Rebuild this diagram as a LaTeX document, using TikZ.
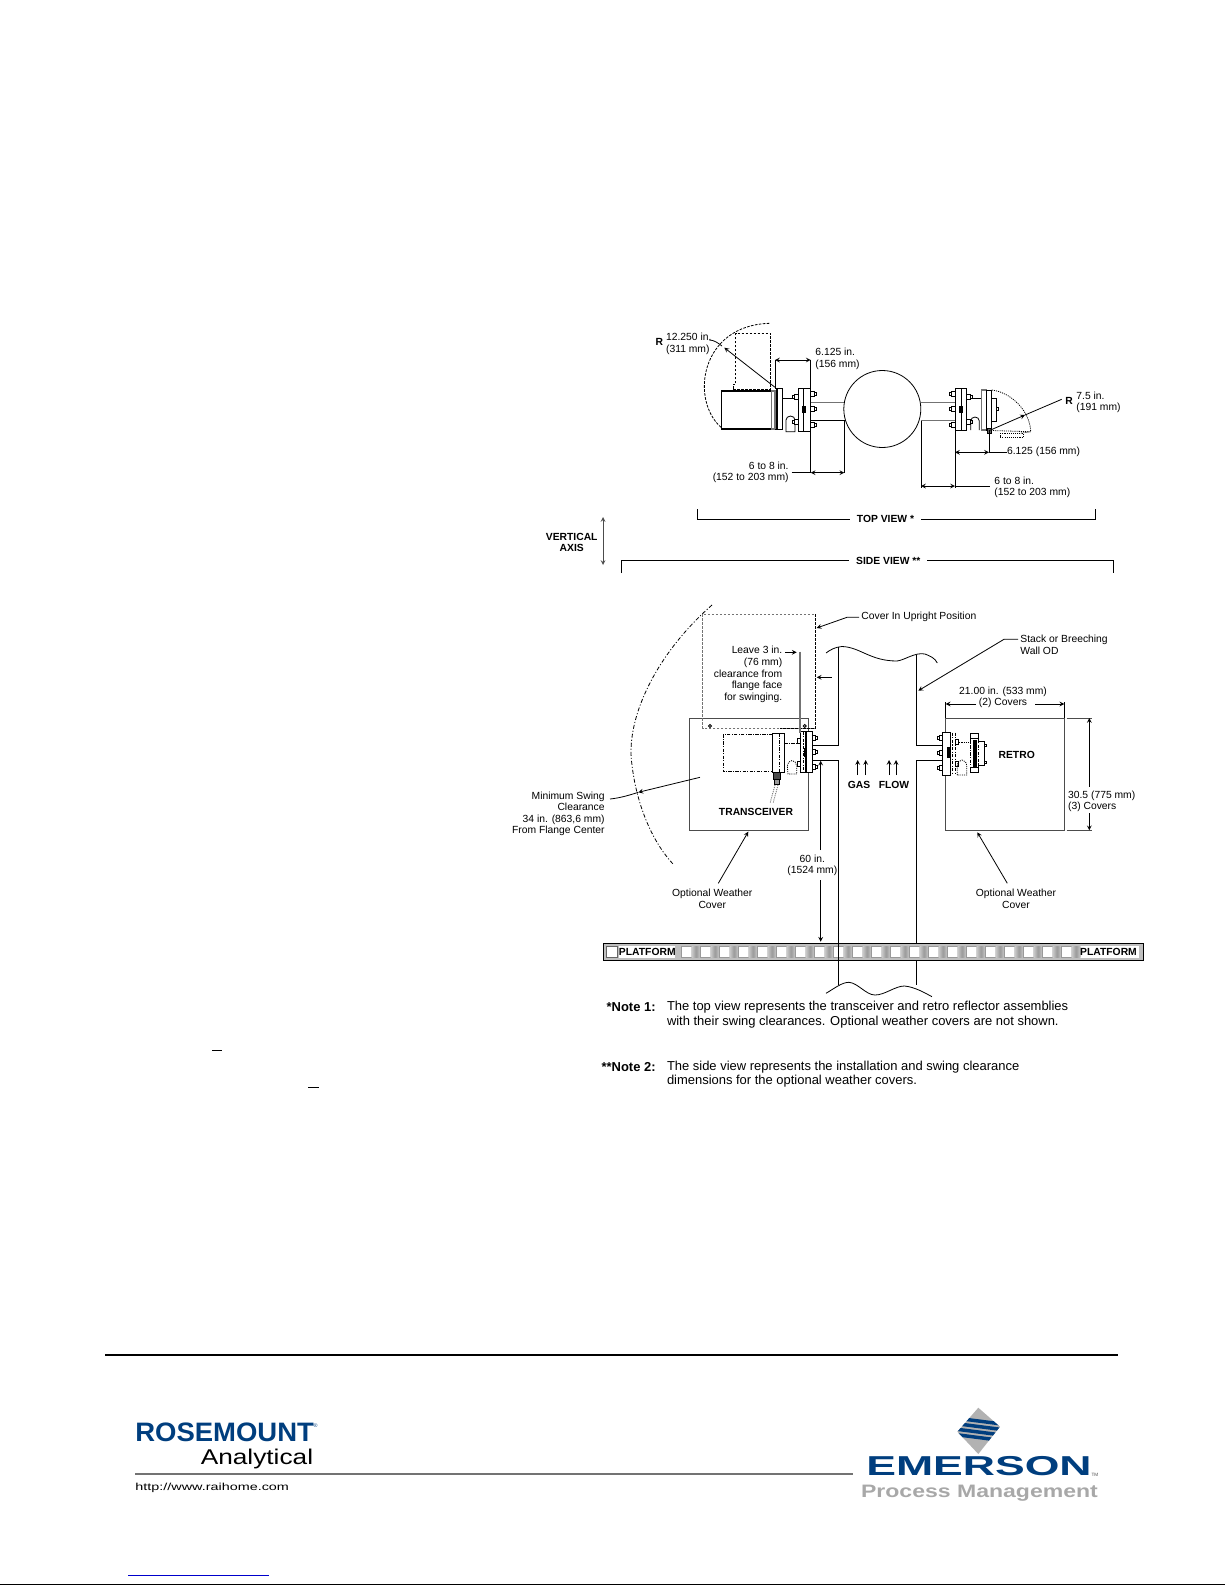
\documentclass[tikz,border=0pt]{standalone}
\usepackage{fontspec}
\usepackage{graphicx}
\setmainfont{Liberation Sans}
\definecolor{logoblue}{RGB}{0,62,126}
\definecolor{logogray}{RGB}{168,168,168}
\tikzset{
  lbl/.style={font=\fontsize{7.75}{8.7}\selectfont,inner sep=0pt},
  lblbold/.style={font=\fontsize{7.75}{8.7}\selectfont\bfseries,inner sep=0pt},
  notetext/.style={font=\fontsize{9.72}{10.8}\selectfont,inner sep=0pt,anchor=west,align=left},
  notehead/.style={font=\fontsize{9.72}{10.8}\selectfont\bfseries,inner sep=0pt,anchor=east},
  dim/.style={<->},
  hidden/.style={dash pattern=on 2pt off 1pt},
  dotty/.style={dash pattern=on 0.8pt off 0.8pt},
  dashdotted2/.style={dash pattern=on 2.5pt off 1pt on 0.8pt off 1pt},
  part/.style={draw,fill=white},
  greyline/.style={draw=black!55,line width=0.8pt}
}
\begin{document}
\begin{tikzpicture}[x=0.75pt,y=-0.75pt,line width=0.6pt,>=stealth]
\useasboundingbox (0,0) rectangle (1225,1585);
% top view, transceiver side
\draw[hidden] (721,427.3) .. controls (690,400) and (700,325) .. (770,323.3);
\draw[hidden] (733.3,389) -- (733.3,384) -- (735.7,384) -- (735.7,333.3) -- (770.7,333.3) -- (770.7,389) -- cycle;
\draw[line width=0.8pt,fill=white] (721.7,391) rectangle (771.7,429);
\draw[greyline] (771.7,391) rectangle (775,429);
\draw[line width=1.1pt] (777,388) -- (777,429.3);
\draw (775,388) -- (782.7,388) -- (782.7,429.3) -- (775,429.3);
\draw (782.7,398.3) -- (794,398.3);
\draw (786,431.7) -- (786,420) arc (180:360:4.5 and 4) -- (795,431.7) -- cycle;
\draw[part] (798.3,388.3) rectangle (803,431.7);
\draw[part] (803,388.3) rectangle (810.7,431.7);
\draw[fill=black] (802,406) rectangle (805,412);
\foreach \y in {394,409,425} {
  \draw[part] (810.7,\y-2.5) rectangle ++(3.5,5);
  \draw[part] (814.2,\y-1.5) rectangle ++(2,3);
}
\foreach \y in {397.3,422.3} {
  \draw[part] (794.8,\y-2.5) rectangle ++(3.5,5);
  \draw[part] (792.8,\y-1.5) rectangle ++(2,3);
}
\draw[greyline] (810.7,402.3) -- (844,402.3);
\draw (810.7,420.7) -- (844,420.7);
% stack, top view
\node[draw,circle,line width=0.6pt,minimum size=57.75pt,inner sep=0pt] (stackTop) at (882.3,409) {};
\draw[greyline] (stackTop.east |- 0,402.3) -- (955,402.3);
\draw[greyline] (921,420.7) -- (955,420.7);
% top view, retro side
\draw[part] (955,388.3) rectangle (961,430.7);
\draw[part] (961,388.3) rectangle (966.7,430.7);
\draw[fill=black] (959,406) rectangle (962,412);
\foreach \y in {394,409,425} {
  \draw[part] (951.5,\y-2.5) rectangle ++(3.5,5);
  \draw[part] (949.5,\y-1.5) rectangle ++(2,3);
}
\foreach \y in {397.3,421.7} {
  \draw[part] (966.7,\y-2.5) rectangle ++(3.5,5);
  \draw[part] (970.2,\y-1.5) rectangle ++(2,3);
}
\draw (971,398.3) -- (981.7,398.3);
\draw (970.7,430) -- (970.7,421) arc (180:360:4.3 and 4) -- (979.3,430);
\draw[greyline,fill=white] (981.7,390) rectangle (986.7,430);
\draw[part] (986.7,390) rectangle (991.7,430);
\draw[part] (991.7,398) rectangle (996.7,421.7);
\draw[part] (996.7,407.7) rectangle (998.7,410.3);
\draw[fill=black!60] (987,428) rectangle (991,433);
\draw[dotty] (991.7,390) .. controls (1010,392) and (1030,410) .. (1030.7,431.7);
\draw[dotty] (991,430.5) -- (1030.7,431.7) (1030.7,431.7) -- (1020,433.3);
\draw[dotty] (1000,433.3) rectangle (1023.3,437.3);
% top view dimensions
\node[lbl,align=left,anchor=west] (lblFaceLeft) at (815,358.7) {6.125 in.\\(156 mm)};
\coordinate (extA) at (775,360);
\coordinate (extB) at (810.7,360);
\draw (775,388) -- (extA);
\draw (810.7,388) -- (extB);
\draw[dim] (extA) -- (extB);
\node[lblbold,anchor=center] (rLeft) at (659.3,341.7) {R};
\node[lbl,align=left,anchor=west] (lblRLeft) at (665.7,343.8) {12.250 in.\\(311 mm)};
\coordinate (pivotLeft) at (775,387.3);
\coordinate (tipLeft) at (724.3,347.7);
\draw[->] (pivotLeft) -- (tipLeft);
\draw (709.3,340) .. controls (714,340) and (718,343) .. (722,346);
\node[lbl,align=right,anchor=east] (lblGapLeft) at (789,472.5) {6 to 8 in.\\(152 to 203 mm)};
\coordinate (extC) at (810.7,472.7);
\coordinate (extD) at (844.3,472.7);
\draw (810.7,431) -- (extC);
\draw (844.3,420) -- (extD);
\draw[dim] (extC) -- (extD);
\draw (lblGapLeft.east |- extC) ++(2.5,0) -- (extC);
\node[lblbold,anchor=center] (rRight) at (1069,400.7) {R};
\node[lbl,align=left,anchor=west] (lblRRight) at (1076,402.2) {7.5 in.\\(191 mm)};
\coordinate (pivotRight) at (989,430.7);
\coordinate (tipRight) at (1025,415);
\draw[->] (pivotRight) -- (tipRight);
\draw (tipRight) -- (1061.7,399.3);
\node[lbl,anchor=west] (lblFaceRight) at (1006.7,452.3) {6.125 (156 mm)};
\coordinate (extE) at (955,452.3);
\coordinate (extF) at (989,452.3);
\draw (989,431) -- (extF);
\draw (955,431) -- (955,488);
\draw[dim] (extE) -- (extF);
\draw (extF) -- (lblFaceRight.west);
\node[lbl,align=left,anchor=west] (lblGapRight) at (994,487.5) {6 to 8 in.\\(152 to 203 mm)};
\coordinate (extG) at (921,486);
\coordinate (extH) at (955,486);
\draw (921,420.7) -- (921,488);
\draw[dim] (extG) -- (extH);
\draw (extH) -- (990,486);
% brackets
\draw (697.3,509) -- (697.3,519.3) -- (1095.7,519.3) -- (1095.7,509);
\node[lblbold,fill=white,inner xsep=5pt,inner ysep=1pt] (topView) at (885.5,519.3) {TOP VIEW *};
\node[lblbold,align=center] (vertAxis) at (571.7,542.3) {VERTICAL\\AXIS};
\coordinate (axisTop) at (603,517);
\coordinate (axisBot) at (603,565);
\draw[dim,black!70] (axisTop) -- (axisBot);
\draw (621,573) -- (621,560.7) -- (1113,560.7) -- (1113,573);
\node[lblbold,fill=white,inner xsep=5pt,inner ysep=1pt] (sideView) at (888.3,560.7) {SIDE VIEW **};
% side view, weather covers and swing
\draw[dash pattern=on 3pt off 1.5pt on 0.8pt off 1.5pt] (712,605) .. controls (655,655) and (625,720) .. (632,765) .. controls (636,800) and (650,840) .. (674,865);
\draw[draw=black!70] (689.3,718) rectangle (808.7,830.3) ;
\draw[draw=black!70] (945.7,718) rectangle (1064.3,830.3);
\draw[hidden,draw=black!55] (815.3,728.3) -- (702.7,728.3) -- (702.7,614) -- (815.3,614);
\draw[hidden] (815.3,614) -- (815.3,728.3) -- (780,728.3);
\draw[fill=white] (710,726) circle (1.5);
\draw[fill=white] (804.7,726) circle (1.5);
% stack walls
\draw (826,653) .. controls (830,650) and (835,647) .. (842,646.5) .. controls (860,647) and (870,661) .. (897,661) .. controls (905,660) and (915,652) .. (925,654) .. controls (930,656) and (935,658) .. (937.3,663);
\draw (838.5,647) -- (838.5,745.5) -- (812.3,745.5);
\draw (916.3,655) -- (916.3,745.7) -- (942.3,745.7);
\draw (812.3,760) -- (838.5,760) -- (838.5,985);
\draw (942.3,760) -- (916.3,760) -- (916.3,985);
\draw (826,993.3) .. controls (835,988) and (842,982.3) .. (849,982.3) .. controls (858,983) and (866,995) .. (875,995) .. controls (885,995) and (895,986) .. (904.5,986) .. controls (915,987) and (925,993) .. (932,996.7);
% side view, transceiver
\draw[dashdotted2,line width=0.7pt] (772.7,734.3) -- (723.3,734.3) -- (723.3,771.7) -- (772.7,771.7);
\draw[fill=white] (772.7,733.3) rectangle (784.3,772.3);
\draw[dashdotted2] (779,733.3) -- (779,772.3);
\draw[fill=black!70] (773,772.3) rectangle (780,779);
\draw[fill=black!40] (774,779) rectangle (779,784.3);
\draw[dotty,black!60] (775,785) -- (770,803.3) (778,785) -- (773,803.3);
\draw[dashdotted2] (784.3,743.3) -- (796.7,743.3);
\draw[dotty] (796.7,774) -- (788,774) -- (787.3,766) arc (180:360:4.7 and 5.5) -- (796.7,774);
\draw[part] (800,731.7) rectangle (805,772.3);
\draw[dashdotted2] (803,731.7) -- (803,772.3);
\draw[part] (806.7,731.7) rectangle (812.3,772.3);
\foreach \y in {737.7,752.3,767.3} {
  \draw[part] (812.3,\y-2.5) rectangle ++(3,5);
  \draw[part] (815.3,\y-1.5) rectangle ++(2,3);
}
\foreach \y in {741,764.3} {
  \draw[part] (797,\y-2.5) rectangle ++(3,5);
}
\draw[fill=black] (804,748) rectangle (806.7,756);
% side view, retro
\draw[part] (942.3,732.7) rectangle (950,775);
\draw[dashdotted2] (952,732.7) -- (952,775) (955,732.7) -- (955,775);
\draw[fill=black] (947,747) rectangle (949.5,757);
\foreach \y in {738.3,752.7,768.3} {
  \draw[part] (939.3,\y-2.5) rectangle ++(3,5);
  \draw[part] (937.3,\y-1.5) rectangle ++(2,3);
}
\foreach \y in {741.7,764} {
  \draw[part] (955,\y-2.5) rectangle ++(3,5);
}
\draw[dotty] (959.3,742.3) -- (970,742.3);
\draw[dotty] (957.3,775) -- (957.3,766) arc (180:360:4.7 and 6) -- (966.7,775) -- cycle;
\draw[part] (970.5,733.3) rectangle (978.3,738.3);
\draw[part] (970.5,767.5) rectangle (978.3,772.7);
\draw[dashdotted2] (970.5,738.3) rectangle (978.3,767.5);
\draw[fill=black] (973.5,740) rectangle (976,766);
\draw (978.3,741.7) -- (984,741.7) -- (984,765.7) -- (978.3,765.7);
\draw[part] (984,744) rectangle (986,746.5);
\draw[part] (984,761) rectangle (986,763.5);
% side view labels and dimensions
\node[lblbold] (lblTrans) at (756,812.3) {TRANSCEIVER};
\node[lblbold] (lblGas) at (859,785) {GAS};
\node[lblbold] (lblFlow) at (894,785) {FLOW};
\node[lblbold] (lblRetro) at (1016.7,755) {RETRO};
\foreach \x in {857.7,865.7,889,896} \draw[->] (\x,775) -- (\x,760);
\node[lbl,anchor=west] (lblUpright) at (861,617.3) {Cover In Upright Position};
\coordinate (tipUpright) at (816.7,628);
\draw[->] (lblUpright.west) ++(-2,0) -- (847,617.3) -- (tipUpright);
\coordinate (tipFace) at (816.7,677.3);
\draw[->] (831.7,677.3) -- (tipFace);
\node[lbl,align=left,anchor=west] (lblStack) at (1020,645) {Stack or Breeching\\Wall OD};
\coordinate (tipStack) at (918.3,690.7);
\draw[->] (lblStack.west |- 0,639.3) ++(-2,0) -- (1004,639.3) -- (tipStack);
\node[lbl,align=center] (lblWidth) at (1003,697.5) {21.00 in. (533 mm)\\(2) Covers};
\coordinate (widthL) at (945.7,704);
\coordinate (widthR) at (1064.3,704);
\draw (945.7,702) -- (945.7,718);
\draw (1064.3,702) -- (1064.3,718);
\draw[->] (976,704) -- (widthL);
\draw[->] (1035,704) -- (widthR);
\draw[black!70] (1066.7,718) -- (1091.7,718);
\draw[black!70] (1066.7,830.3) -- (1091.7,830.3);
\node[lbl,align=left,anchor=west] (lblHeight) at (1067.7,801.2) {30.5 (775 mm)\\(3) Covers};
\draw[->] (1089.3,786.7) -- (1089.3,718);
\draw[->] (1089.3,813.3) -- (1089.3,830.3);
\node[lbl,align=center] (lblCoverR) at (1016,899) {Optional Weather\\Cover};
\draw[->] (1007.3,883.3) -- (977.3,832.3);
\node[lbl,align=center] (lblCoverL) at (712.3,899) {Optional Weather\\Cover};
\draw[->] (718.3,883.3) -- (748.3,831.7);
\node[lbl,align=right,anchor=east] (lblSwing) at (605,813.9) {Minimum Swing\\Clearance\\34 in. (863,6 mm)\\From Flange Center};
\coordinate (tipSwing) at (638.3,792.3);
\draw[->] (700,777.3) -- (tipSwing);
\draw (610,799) .. controls (620,798) and (630,795) .. (tipSwing);
\node[lbl,align=right,anchor=east] (lblLeave) at (782.7,674.5) {Leave 3 in.\\(76 mm)\\clearance from\\flange face\\for swinging.};
\draw[->] (785,652.3) -- (796.7,652.3);
\draw[greyline] (800,651.7) -- (800,733);
\node[lbl,align=center] (lblHeightPl) at (812.3,865.5) {60 in.\\(1524 mm)};
\draw[->] (820.7,850) -- (820.7,760.7);
\draw[->] (820.7,880) -- (820.7,941.7);
% platform
\draw[line width=1pt,fill=black!25] (603.7,943.3) rectangle (1143.8,960.7);
\draw[fill=white,draw=black!60] (606.6,946) rectangle (617.7,957.5);
\fill[white] (619,946) rectangle (675,958);
\fill[white] (1079.5,946) rectangle (1139,958);
\foreach \i in {0,...,20} {
  \draw[fill=white,draw=black!40] (681.7+19*\i,946) rectangle ++(9.3,11.8);
  \shade[left color=black!20,right color=black!20,middle color=black!40] (691.5+19*\i,946) rectangle ++(9,11.8);
}
\draw (838.5,943.3) -- (838.5,960.7);
\node[lblbold] (platL) at (647.3,952) {PLATFORM};
\node[lblbold] (platR) at (1108.5,952) {PLATFORM};
% notes
\node[notehead] (noteA) at (656,1007.3) {*Note 1:};
\node[notetext] (noteAtext) at (666.6,1014.5) {The top view represents the transceiver and retro reflector assemblies\\with their swing clearances. Optional weather covers are not shown.};
\node[notehead] (noteB) at (656,1066.7) {**Note 2:};
\node[notetext] (noteBtext) at (666.6,1074.2) {The side view represents the installation and swing clearance\\dimensions for the optional weather covers.};
% stray marks, left column
\draw[line width=1pt] (212,1050.3) -- (221.7,1050.3);
\draw[line width=1pt] (308,1087.3) -- (319,1087.3);
% footer
\draw[line width=1pt] (105,1355) -- (1118,1355);
\node[inner sep=0pt,anchor=west,font=\fontsize{20}{21}\selectfont\bfseries,text=logoblue] (logoRosemount) at (135,1432.5) {\scalebox{1.03}[1]{ROSEMOUNT}};
\node[inner sep=0pt,font=\fontsize{4}{4}\selectfont,text=logoblue] (logoReg) at (315.5,1425.5) {®};
\node[inner sep=0pt,anchor=east,font=\fontsize{16}{17}\selectfont,text=black] (logoAnalytical) at (313.5,1458.5) {\scalebox{1.23}[1]{Analytical}};
\draw[black!55,line width=0.8pt] (135,1474) -- (853,1474);
\node[inner sep=0pt,anchor=west,font=\fontsize{7.6}{8}\selectfont] (logoUrl) at (135,1488) {\scalebox{1.42}[1]{http://www.raihome.com}};
\draw[blue!80!black,line width=0.7pt] (128,1575) -- (269,1575);
\draw[line width=1pt] (0,1584.3) -- (1225,1584.3);
% emerson mark
\fill[black!30] (978.3,1407.7) -- (1000,1426.7) -- (978.3,1454) -- (957.3,1431.7) -- cycle;
\begin{scope}
\clip (978.3,1407.7) -- (1000,1426.7) -- (978.3,1454) -- (957.3,1431.7) -- cycle;
\foreach \y in {1421,1426.5,1432,1437.5} \draw[logoblue,line width=2.6pt] (955,\y-3) -- (1002,\y+3);
\end{scope}
\node[inner sep=0pt,font=\fontsize{20.5}{21}\selectfont\bfseries,text=logoblue] (logoEmerson) at (979,1466) {\scalebox{1.63}[1]{EMERSON}};
\node[inner sep=0pt,font=\fontsize{3.5}{4}\selectfont,text=black!70] (logoTm) at (1095,1475) {TM};
\node[inner sep=0pt,font=\fontsize{13.5}{14}\selectfont\bfseries,text=logogray] (logoProcess) at (979.5,1493) {\scalebox{1.28}[1]{Process Management}};
\end{tikzpicture}
\end{document}
